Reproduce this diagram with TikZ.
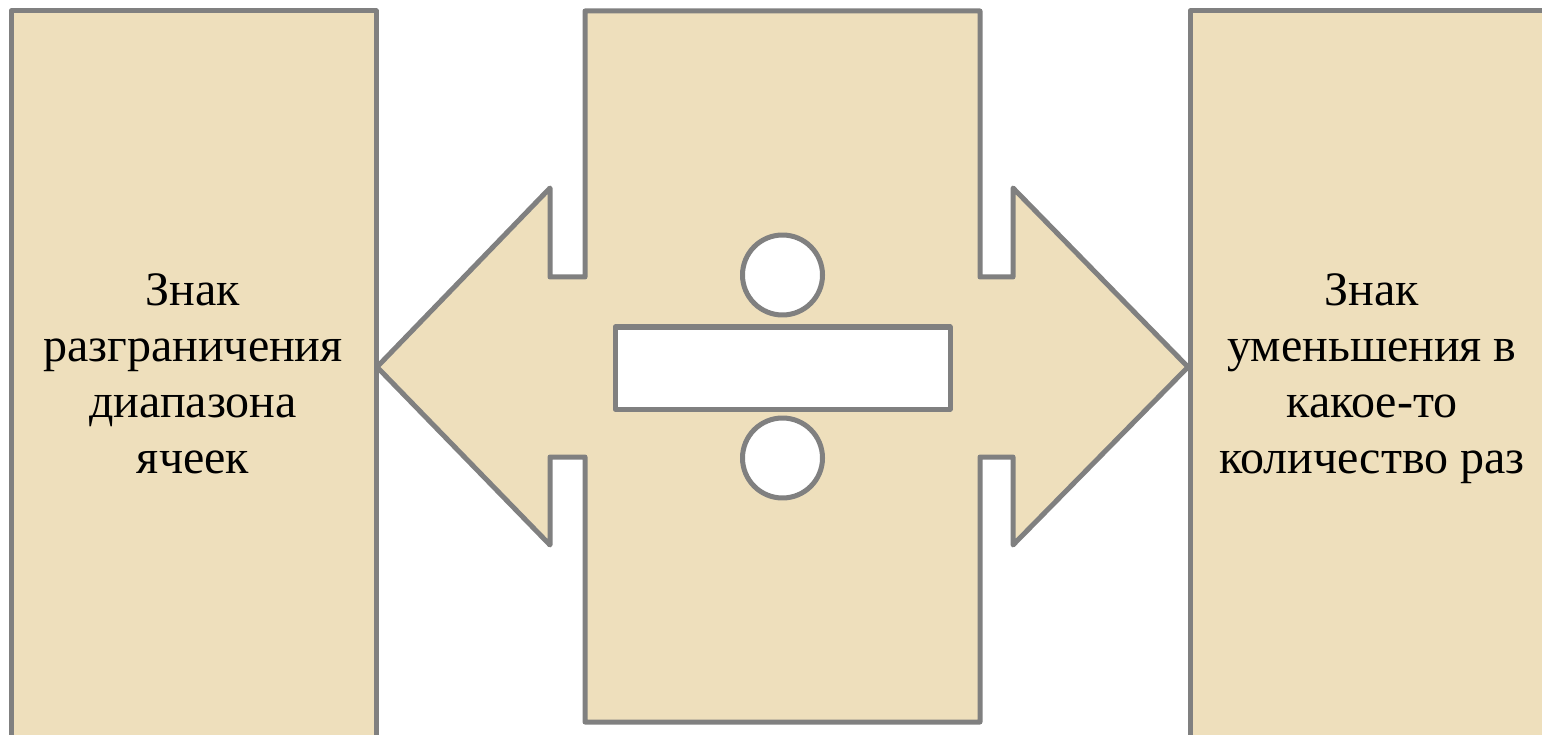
\documentclass[tikz,border=0pt]{standalone}
\usepackage{fontspec}
\setmainfont{Liberation Serif}
\definecolor{parch}{RGB}{238,223,188}
\definecolor{edge}{RGB}{128,128,128}
\tikzset{
  panel/.style={draw=edge, line width=5pt, fill=parch, line join=round},
  hole/.style={draw=edge, line width=5pt, fill=white, line join=round},
  label/.style={align=center, font=\fontsize{48}{56}\selectfont, inner sep=0pt, anchor=base, text=black}
}
\begin{document}
\begin{tikzpicture}[x=1pt,y=-1pt]
\useasboundingbox (0,0) rectangle (1542,735);
\clip (0,0) rectangle (1542,735);
% left panel
\path[panel] (11,11) rectangle (376,760);
% right panel
\path[panel] (1190,11) rectangle (1560,760);
% middle double arrow
\path[panel] (585,11) -- (980,11) -- (980,277) -- (1013,277) -- (1013,188)
  -- (1188,367) -- (1013,545) -- (1013,457) -- (980,457) -- (980,722)
  -- (585,722) -- (585,457) -- (550,457) -- (550,545) -- (377,367)
  -- (550,188) -- (550,277) -- (585,277) -- cycle;
% division sign
\path[hole] (782.5,275) circle (40);
\path[hole] (615,327) rectangle (950,409);
\path[hole] (782.5,458) circle (40);
% texts
\node[label] (lt) at (193,473) {Знак\\разграничения\\диапазона\\ячеек};
\node[label] (rt) at (1372,473) {Знак\\уменьшения в\\какое-то\\количество раз};
\end{tikzpicture}
\end{document}
